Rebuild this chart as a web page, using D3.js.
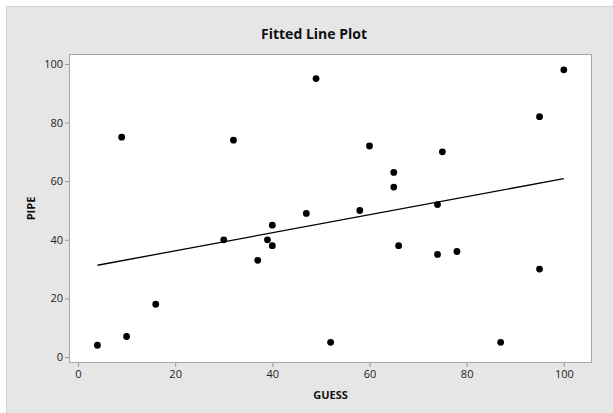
<!DOCTYPE html>
<html>
<head>
<meta charset="utf-8">
<script src="https://cdn.jsdelivr.net/npm/d3@7"></script>
<style>
	body { margin: 0; background: #ffffff; }
	text { font-family: "Open Sans", "Noto Sans", sans-serif; }
	.tick text { font-size: 11px; fill: #222; }
	.title { font-size: 14px; font-weight: bold; fill: #111; }
	.axisLabel { font-size: 11px; font-weight: bold; fill: #111; }
</style>
</head>
<body>
<div id="chart"></div>
<script>
var guess = [4, 9, 10, 16, 30, 32, 37, 39, 40, 40, 47, 49, 52, 58, 60, 65, 65, 66, 74, 74, 75, 78, 87, 95, 95, 100];
var pipe = [4, 75, 7, 18, 40, 74, 33, 40, 45, 38, 49, 95, 5, 50, 72, 63, 58, 38, 52, 35, 70, 36, 5, 82, 30, 98];
var xTicks = [0, 20, 40, 60, 80, 100];
var yTicks = [0, 20, 40, 60, 80, 100];

var width = 613,
	height = 413,
	plotLeft = 69,
	plotTop = 54,
	plotRight = 592,
	plotBottom = 363;

var points = guess.map(function(d, i) { return {x: d, y: pipe[i]}; });

/*
	least squares fit for the fitted line
*/
var meanX = d3.mean(guess),
	meanY = d3.mean(pipe);
var sxy = d3.sum(points, function(d) { return (d.x - meanX) * (d.y - meanY); });
var sxx = d3.sum(points, function(d) { return (d.x - meanX) * (d.x - meanX); });
var slope = sxy / sxx,
	intercept = meanY - slope * meanX;
var fitData = d3.extent(guess).map(function(x) { return {x: x, y: intercept + slope * x}; });

var xScale = d3.scaleLinear()
	.domain([-1.85, 105.8])
	.range([plotLeft, plotRight])
;

var yScale = d3.scaleLinear()
	.domain([-2.05, 103.4])
	.range([plotBottom, plotTop])
;

var svg = d3.select("#chart")
	.append("svg")
	.attr("width", width)
	.attr("height", height)
;

svg.append("rect")
	.attr("x", 6.5)
	.attr("y", 6.5)
	.attr("width", width - 6)
	.attr("height", height - 6)
	.attr("fill", "#e6e6e6")
	.attr("stroke", "#d2d2d2")
;

svg.append("rect")
	.attr("x", plotLeft + 0.5)
	.attr("y", plotTop + 0.5)
	.attr("width", plotRight - plotLeft - 1)
	.attr("height", plotBottom - plotTop - 1)
	.attr("fill", "#ffffff")
	.attr("stroke", "#a8a8a8")
;

/*
	Axes
*/
var xAxis = svg.append("g")
	.attr("transform", "translate(0," + plotBottom + ")")
	.call(d3.axisBottom(xScale).tickValues(xTicks).tickSize(4).tickPadding(3))
;
var yAxis = svg.append("g")
	.attr("transform", "translate(" + plotLeft + ",0)")
	.call(d3.axisLeft(yScale).tickValues(yTicks).tickSize(4).tickPadding(2))
;
[xAxis, yAxis].forEach(function(ax) {
	ax.select(".domain").remove();
	ax.selectAll(".tick line").attr("stroke", "#9a9a9a");
	ax.selectAll(".tick text").attr("font-size", null).attr("font-family", null);
});

/*
	Fitted line and points
*/
var line = d3.line()
	.x(function(d) { return xScale(d.x); })
	.y(function(d) { return yScale(d.y); })
;

svg.append("path")
	.datum(fitData)
	.attr("d", line)
	.attr("fill", "none")
	.attr("stroke", "#000")
	.attr("stroke-width", 1.3)
;

svg.selectAll("circle.pt")
	.data(points)
	.enter()
	.append("circle")
	.attr("class", "pt")
	.attr("cx", function(d) { return xScale(d.x); })
	.attr("cy", function(d) { return yScale(d.y); })
	.attr("r", 3.4)
	.attr("fill", "#000")
;

/*
	Titles
*/
svg.append("text")
	.attr("class", "title")
	.attr("x", 314)
	.attr("y", 39)
	.attr("text-anchor", "middle")
	.text("Fitted Line Plot")
;

svg.append("text")
	.attr("class", "axisLabel")
	.attr("x", (plotLeft + plotRight) / 2)
	.attr("y", 399)
	.attr("text-anchor", "middle")
	.text("GUESS")
;

svg.append("text")
	.attr("class", "axisLabel")
	.attr("transform", "translate(35," + ((plotTop + plotBottom) / 2) + ") rotate(-90)")
	.attr("text-anchor", "middle")
	.text("PIPE")
;
</script>
</body>
</html>
